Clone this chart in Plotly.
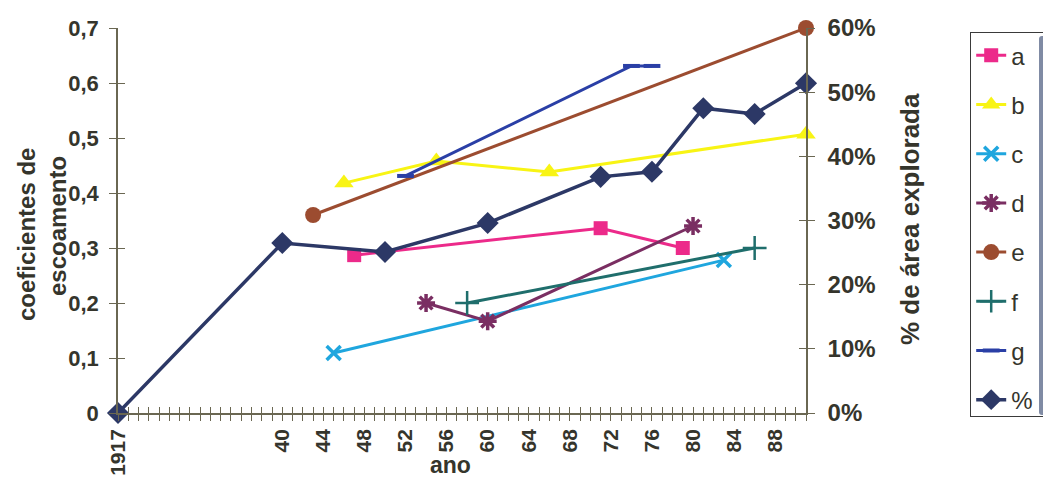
import plotly.graph_objects as go

# Category axis: 1917, then the yearly series 1925-1991 (shown as two digits)
categorias = ["1917"] + [f"{a % 100:02d}" for a in range(1925, 1992)]
rotulos_x = ["1917"] + [str(a) for a in range(40, 89, 4)]

# Runoff coefficients (left axis)
anos_a = ["47", "71", "79"]
coef_a = [0.287, 0.336, 0.300]

anos_b = ["46", "55", "66", "91"]
coef_b = [0.418, 0.458, 0.438, 0.507]

anos_c = ["45", "83"]
coef_c = [0.109, 0.278]

anos_d = ["54", "60", "80"]
coef_d = [0.200, 0.167, 0.340]

anos_e = ["43", "91"]
coef_e = [0.360, 0.700]

anos_f = ["58", "86"]
coef_f = [0.200, 0.300]

anos_g = ["52", "74", "76"]
coef_g = [0.431, 0.631, 0.631]

# Explored area (right axis)
anos_pct = ["1917", "40", "50", "60", "71", "76", "81", "86", "91"]
pct_area = [0.0, 0.265, 0.251, 0.296, 0.368, 0.376, 0.475, 0.466, 0.514]

ticks_esq = [0, 0.1, 0.2, 0.3, 0.4, 0.5, 0.6, 0.7]
rot_esq = ["0", "0,1", "0,2", "0,3", "0,4", "0,5", "0,6", "0,7"]
ticks_dir = [0, 0.1, 0.2, 0.3, 0.4, 0.5, 0.6]
rot_dir = ["0%", "10%", "20%", "30%", "40%", "50%", "60%"]

TXT = "#35352c"
EIXO = "#6a6752"
FONTE = "Liberation Sans"

series = [
    ("a", anos_a, coef_a, "#ec2a8a", dict(symbol="square", size=14)),
    ("b", anos_b, coef_b, "#f8f414", dict(symbol="triangle-up", size=17)),
    ("c", anos_c, coef_c, "#1fa6de", dict(symbol="x-thin-open", size=14, line=dict(width=3.5, color="#1fa6de"))),
    ("d", anos_d, coef_d, "#7a2e62", dict(symbol="asterisk-open", size=15, line=dict(width=3.5, color="#7a2e62"))),
    ("e", anos_e, coef_e, "#9c4c30", dict(symbol="circle", size=16)),
    ("f", anos_f, coef_f, "#1f6e6c", dict(symbol="cross-thin-open", size=17, line=dict(width=2.5, color="#1f6e6c"))),
    ("g", anos_g, coef_g, "#2a3fa6", dict(symbol="line-ew-open", size=12, line=dict(width=4, color="#2a3fa6"))),
]

fig = go.Figure()

for nome, xs, ys, cor, marc in series:
    fig.add_trace(go.Scatter(
        x=xs, y=ys, name=nome, mode="lines+markers",
        line=dict(color=cor, width=3), marker=dict(color=cor, **marc),
        cliponaxis=False, legendgroup=nome, xaxis="x", yaxis="y",
    ))

fig.add_trace(go.Scatter(
    x=anos_pct, y=pct_area, name="%", mode="lines+markers",
    line=dict(color="#2c3866", width=3.5),
    marker=dict(symbol="diamond", size=17, color="#2c3866"),
    cliponaxis=False, legendgroup="pct", xaxis="x", yaxis="y2",
))

# empty traces so the overlay axes (inner half of the crossing ticks) are drawn
fig.add_trace(go.Scatter(x=[], y=[], xaxis="x2", yaxis="y3", showlegend=False, hoverinfo="skip"))
fig.add_trace(go.Scatter(x=[], y=[], xaxis="x2", yaxis="y4", showlegend=False, hoverinfo="skip"))

ticktext_x = [c if c in rotulos_x else "" for c in categorias]

eixo_x = dict(
    type="category", categoryorder="array", categoryarray=categorias,
    range=[0, len(categorias) - 1], tickmode="array",
    tickvals=categorias, ticktext=ticktext_x,
    showgrid=False, zeroline=False,
)

titulo_font = dict(family=FONTE, size=24, color=TXT, weight="bold")

fig.update_layout(
    width=1043, height=478,
    margin=dict(l=118, r=237, t=28, b=65, autoexpand=False),
    paper_bgcolor="white", plot_bgcolor="white",
    showlegend=True,
    xaxis=dict(
        **eixo_x, showline=True, linecolor=EIXO, linewidth=1.5,
        ticks="outside", ticklen=6, tickwidth=1.2, tickcolor=EIXO,
        tickangle=-90, tickfont=dict(family=FONTE, size=21, color=TXT, weight="bold"),
        anchor="y",
    ),
    xaxis2=dict(
        **eixo_x, overlaying="x", anchor="y3", showline=False,
        ticks="inside", ticklen=6, tickwidth=1.2, tickcolor=EIXO,
        showticklabels=False,
    ),
    yaxis=dict(
        range=[0, 0.7], tickmode="array", tickvals=ticks_esq, ticktext=rot_esq,
        showline=True, linecolor=EIXO, linewidth=1.5, showgrid=False, zeroline=False,
        ticks="outside", ticklen=7, tickwidth=1.2, tickcolor=EIXO,
        tickfont=dict(family=FONTE, size=22, color=TXT, weight="bold"),
        ticklabelstandoff=6, anchor="x",
    ),
    yaxis2=dict(
        range=[0, 0.6], tickmode="array", tickvals=ticks_dir, ticktext=rot_dir,
        overlaying="y", side="right", anchor="x",
        showline=True, linecolor=EIXO, linewidth=1.5, showgrid=False, zeroline=False,
        ticks="outside", ticklen=7, tickwidth=1.2, tickcolor=EIXO,
        tickfont=dict(family=FONTE, size=24, color=TXT, weight="bold"), ticklabelstandoff=8,
    ),
    yaxis3=dict(
        range=[0, 0.7], tickmode="array", tickvals=ticks_esq, overlaying="y",
        side="left", anchor="x2", showline=False, showgrid=False, zeroline=False,
        ticks="inside", ticklen=7, tickwidth=1.2, tickcolor=EIXO, showticklabels=False,
    ),
    yaxis4=dict(
        range=[0, 0.6], tickmode="array", tickvals=ticks_dir, overlaying="y",
        side="right", anchor="x2", showline=False, showgrid=False, zeroline=False,
        ticks="inside", ticklen=7, tickwidth=1.2, tickcolor=EIXO, showticklabels=False,
    ),
    legend=dict(
        x=(970 - 118) / 688, y=(413 - 32) / 385, xanchor="left", yanchor="top",
        bordercolor="#3a3a3a", borderwidth=1.2, bgcolor="white",
        font=dict(family=FONTE, size=24, color=TXT),
        tracegroupgap=15, traceorder="grouped", entrywidth=110,
        itemsizing="trace",
    ),
    annotations=[
        dict(text="coeficientes de", textangle=-90,
             x=(27 - 118) / 688, y=(413 - 234) / 385, xref="paper", yref="paper",
             showarrow=False, xanchor="center", yanchor="middle", font=titulo_font),
        dict(text="escoamento", textangle=-90,
             x=(58 - 118) / 688, y=(413 - 226) / 385, xref="paper", yref="paper",
             showarrow=False, xanchor="center", yanchor="middle", font=titulo_font),
        dict(text="% de área explorada", textangle=-90,
             x=(910 - 118) / 688, y=(413 - 219) / 385, xref="paper", yref="paper",
             showarrow=False, xanchor="center", yanchor="middle",
             font=dict(family=FONTE, size=26, color=TXT, weight="bold")),
        dict(text="ano", x=(450 - 118) / 688, y=(413 - 465) / 385,
             xref="paper", yref="paper", showarrow=False,
             xanchor="center", yanchor="middle",
             font=dict(family=FONTE, size=23, color=TXT, weight="bold")),
    ],
)

fig.write_html("out.html")
